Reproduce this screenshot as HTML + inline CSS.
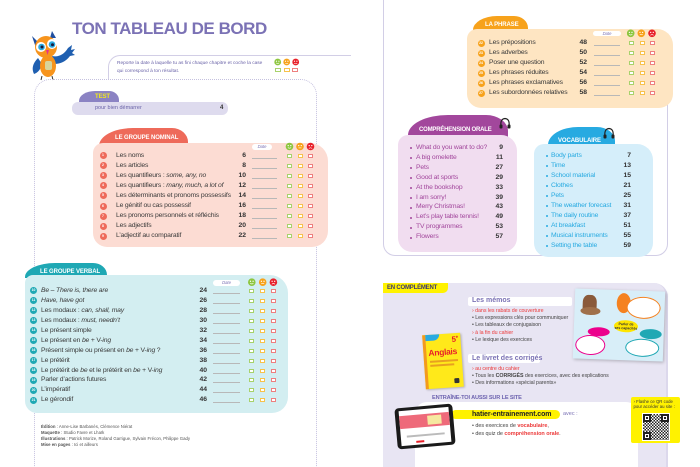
<!DOCTYPE html>
<html><head><meta charset="utf-8">
<style>
*{margin:0;padding:0;box-sizing:border-box}
html,body{width:700px;height:467px;overflow:hidden;background:#fff}
body{position:relative;font-family:"Liberation Sans",sans-serif;color:#3a3a3a}
.a{position:absolute}
.r{position:absolute;left:0;width:700px;height:10px;line-height:10px;font-size:6.8px;letter-spacing:-0.18px;color:#3a3a3a;white-space:nowrap}
.r .ci{position:absolute;top:1.5px;width:7px;height:7px;border-radius:50%;color:#fff;font-size:3.4px;line-height:7px;text-align:center;font-weight:bold;letter-spacing:0}
.r .t{position:absolute}
.r .p{position:absolute;text-align:right;width:20px;font-weight:bold;letter-spacing:0;color:#333}
.r .d{position:absolute;top:7px;height:0;border-top:0.7px solid #b8b8b8}
.r .b{position:absolute;top:3px;width:5px;height:4px;border:0.8px solid;background:#fff}
.b1{border-color:#a8d26c!important}.b2{border-color:#f7c24c!important}.b3{border-color:#ee7f7f!important}
.N .ci{left:99.5px;background:#ee6a5a}.N .t{left:116px}.N .p{left:226px}.N .d{left:252px;width:25px}
.N .b1{left:286.5px}.N .b2{left:297.5px}.N .b3{left:308px}
.V .ci{left:30px;background:#1fa8b4}.V .t{left:41px}.V .p{left:187px}.V .d{left:213px;width:27px}
.V .b1{left:249px}.V .b2{left:260px}.V .b3{left:271px}
.P .ci{left:477.5px;background:#f7a21b}.P .t{left:489px}.P .p{left:567px}.P .d{left:594px;width:26px}
.P .b1{left:628.5px}.P .b2{left:639.5px}.P .b3{left:649.5px}
.C .t{left:416px;color:#a2479c}.C .p{left:483px}.C .bu{position:absolute;left:410px;top:4.2px;width:2px;height:2px;border-radius:50%;background:#a2479c}
.W .t{left:551px;color:#27aae1}.W .p{left:611px}.W .bu{position:absolute;left:546px;top:4.2px;width:2px;height:2px;border-radius:50%;background:#27aae1}
.tab{position:absolute;color:#fff;font-weight:bold;font-size:6px;letter-spacing:-0.1px;white-space:nowrap}
.pill{position:absolute;background:#fff;border-radius:3px;font-size:4.2px;font-style:italic;color:#7b72b5;text-align:center;line-height:5px}
.sm{position:absolute;font-size:5.3px;line-height:7px;white-space:nowrap;color:#444;letter-spacing:-0.05px}
.red{color:#ec3a3a}
</style></head><body>

<!-- LEFT PAGE -->
<div class="a" style="left:72px;top:17px;font-size:17px;font-weight:bold;color:#7b72b5;letter-spacing:-0.45px;line-height:24px;white-space:nowrap">TON TABLEAU DE BORD</div>

<!-- owl -->
<svg class="a" style="left:28px;top:28px" width="50" height="54" viewBox="0 0 50 54">
  <path d="M4 8 L10 14 L8 20 Z" fill="#1f4fa0"/>
  <path d="M24 3 L22 10 L28 10 Z" fill="#1f4fa0"/>
  <path d="M24 28 Q34 30 40 20 L44 17 L43 22 L47 21 L44 25 L47 27 L42 28 Q36 36 26 36 Z" fill="#1f5fb0"/>
  <path d="M10 30 Q2 38 6 46 Q12 44 14 36 Z" fill="#1f5fb0"/>
  <ellipse cx="20" cy="38" rx="8" ry="11" fill="#f7941d"/>
  <rect x="17" y="33" width="7" height="9" rx="2" fill="#d8d49a"/>
  <circle cx="18" cy="19" r="11" fill="#f7941d"/>
  <circle cx="13" cy="19" r="5" fill="#fff"/><circle cx="24" cy="16" r="5" fill="#fff"/>
  <circle cx="13.5" cy="19" r="3.3" fill="#29aae1"/><circle cx="24" cy="16.5" r="3.3" fill="#29aae1"/>
  <circle cx="14" cy="19" r="1.5" fill="#1a1a3a"/><circle cx="24.5" cy="16.8" r="1.5" fill="#1a1a3a"/>
  <path d="M18 22 L21 22 L19.5 27 Z" fill="#e8318a"/>
  <path d="M14 48 L13 52 M24 48 L25 52" stroke="#333" stroke-width="1"/>
</svg>

<!-- instruction panel -->
<div class="a" style="left:108px;top:55px;width:243px;height:25px;border-top:1px solid #d2cee6;border-left:1px solid #d2cee6;border-top-left-radius:12px"></div>
<div class="a" style="left:117px;top:60px;font-size:4.8px;line-height:8px;color:#6a63a8;white-space:nowrap">Reporte la date à laquelle tu as fini chaque chapitre et coche la case<br>qui correspond à ton résultat.</div>
<svg class="a" style="left:274px;top:58px" width="26" height="8" viewBox="0 0 26 8">
 <g transform="translate(3.7,4)"><circle r="3.4" fill="#8dc63f"/><circle cx="-1.2" cy="-0.8" r="0.6" fill="#fff"/><circle cx="1.2" cy="-0.8" r="0.6" fill="#fff"/><path d="M-1.5 0.9 Q0 2.2 1.5 0.9" stroke="#fff" stroke-width="0.6" fill="none"/></g>
 <g transform="translate(12.7,4)"><circle r="3.4" fill="#f7a21b"/><circle cx="-1.2" cy="-0.8" r="0.6" fill="#fff"/><circle cx="1.2" cy="-0.8" r="0.6" fill="#fff"/><path d="M-1.4 1.3 L1.4 1.3" stroke="#fff" stroke-width="0.6"/></g>
 <g transform="translate(21.7,4)"><circle r="3.4" fill="#e8202a"/><circle cx="-1.2" cy="-0.8" r="0.6" fill="#fff"/><circle cx="1.2" cy="-0.8" r="0.6" fill="#fff"/><path d="M-1.5 1.9 Q0 0.6 1.5 1.9" stroke="#fff" stroke-width="0.6" fill="none"/></g>
</svg>
<div class="a" style="left:275px;top:68px;width:6px;height:4px;border:0.8px solid #a8d26c"></div>
<div class="a" style="left:283.5px;top:68px;width:6px;height:4px;border:0.8px solid #f7c24c"></div>
<div class="a" style="left:292px;top:68px;width:6px;height:4px;border:0.8px solid #ee7f7f"></div>

<!-- main left frame -->
<div class="a" style="left:34px;top:79px;width:283px;height:400px;border:1px dotted #c5c1df;border-bottom:none;border-radius:16px 16px 0 0"></div>

<!-- test -->
<div class="a" style="left:79px;top:91px;width:40px;height:12px;background:#8b83c3;border-radius:16px 10px 0 0/10px 9px 0 0"></div>
<div class="tab" style="left:95px;top:93px;color:#f3ea1a;font-size:6px;line-height:8px">TEST</div>
<div class="a" style="left:72px;top:102px;width:156px;height:13px;background:#dedbee;border-radius:6px"></div>
<div class="a" style="left:95px;top:104px;font-size:5.5px;line-height:9px;color:#6a63a8">pour bien démarrer</div>
<div class="a" style="left:220px;top:104px;font-size:6px;line-height:9px;font-weight:bold;color:#333">4</div>

<!-- groupe nominal -->
<div class="a" style="left:99px;top:128px;width:89px;height:20px;background:#ee6a5a;border-radius:34px 16px 0 0/18px 14px 0 0"></div>
<div class="tab" style="left:115px;top:134px;line-height:8px">LE GROUPE NOMINAL</div>
<div class="a" style="left:93px;top:143px;width:235px;height:104px;background:#fcdcd3;border-radius:10px 18px 16px 14px"></div>
<div class="pill" style="left:252px;top:144px;width:20px;height:5.5px">Date</div>
<svg class="a" style="left:285px;top:142px" width="30" height="9" viewBox="0 0 30 9">
 <g transform="translate(4.5,4.5)"><circle r="3.8" fill="#8dc63f"/><circle cx="-1.3" cy="-0.9" r="0.65" fill="#fff"/><circle cx="1.3" cy="-0.9" r="0.65" fill="#fff"/><path d="M-1.6 1 Q0 2.4 1.6 1" stroke="#fff" stroke-width="0.65" fill="none"/></g>
 <g transform="translate(15,4.5)"><circle r="3.8" fill="#f7a21b"/><circle cx="-1.3" cy="-0.9" r="0.65" fill="#fff"/><circle cx="1.3" cy="-0.9" r="0.65" fill="#fff"/><path d="M-1.5 1.4 L1.5 1.4" stroke="#fff" stroke-width="0.65"/></g>
 <g transform="translate(25.5,4.5)"><circle r="3.8" fill="#e8202a"/><circle cx="-1.3" cy="-0.9" r="0.65" fill="#fff"/><circle cx="1.3" cy="-0.9" r="0.65" fill="#fff"/><path d="M-1.6 2 Q0 0.6 1.6 2" stroke="#fff" stroke-width="0.65" fill="none"/></g>
</svg>
<div class="r N" style="top:150.5px"><span class="ci">1</span><span class="t">Les noms</span><span class="p">6</span><span class="d"></span><span class="b b1"></span><span class="b b2"></span><span class="b b3"></span></div>
<div class="r N" style="top:160.6px"><span class="ci">2</span><span class="t">Les articles</span><span class="p">8</span><span class="d"></span><span class="b b1"></span><span class="b b2"></span><span class="b b3"></span></div>
<div class="r N" style="top:170.7px"><span class="ci">3</span><span class="t">Les quantifieurs : <i>some, any, no</i></span><span class="p">10</span><span class="d"></span><span class="b b1"></span><span class="b b2"></span><span class="b b3"></span></div>
<div class="r N" style="top:180.8px"><span class="ci">4</span><span class="t">Les quantifieurs : <i>many, much, a lot of</i></span><span class="p">12</span><span class="d"></span><span class="b b1"></span><span class="b b2"></span><span class="b b3"></span></div>
<div class="r N" style="top:190.9px"><span class="ci">5</span><span class="t">Les déterminants et pronoms possessifs</span><span class="p">14</span><span class="d"></span><span class="b b1"></span><span class="b b2"></span><span class="b b3"></span></div>
<div class="r N" style="top:201px"><span class="ci">6</span><span class="t">Le génitif ou cas possessif</span><span class="p">16</span><span class="d"></span><span class="b b1"></span><span class="b b2"></span><span class="b b3"></span></div>
<div class="r N" style="top:211.1px"><span class="ci">7</span><span class="t">Les pronoms personnels et réfléchis</span><span class="p">18</span><span class="d"></span><span class="b b1"></span><span class="b b2"></span><span class="b b3"></span></div>
<div class="r N" style="top:221.2px"><span class="ci">8</span><span class="t">Les adjectifs</span><span class="p">20</span><span class="d"></span><span class="b b1"></span><span class="b b2"></span><span class="b b3"></span></div>
<div class="r N" style="top:231.3px"><span class="ci">9</span><span class="t">L’adjectif au comparatif</span><span class="p">22</span><span class="d"></span><span class="b b1"></span><span class="b b2"></span><span class="b b3"></span></div>

<!-- groupe verbal -->
<div class="a" style="left:25px;top:263px;width:82px;height:15px;background:#1fa8b4;border-radius:30px 14px 0 0/14px 12px 0 0"></div>
<div class="tab" style="left:40px;top:268px;line-height:8px">LE GROUPE VERBAL</div>
<div class="a" style="left:25px;top:275px;width:263px;height:138px;background:#d3eef1;border-radius:8px 18px 16px 12px"></div>
<div class="pill" style="left:213px;top:280px;width:27px;height:5.5px">Date</div>
<svg class="a" style="left:248px;top:277.5px" width="30" height="9" viewBox="0 0 30 9">
 <g transform="translate(3.8,4.2)"><circle r="3.8" fill="#8dc63f"/><circle cx="-1.3" cy="-0.9" r="0.65" fill="#fff"/><circle cx="1.3" cy="-0.9" r="0.65" fill="#fff"/><path d="M-1.6 1 Q0 2.4 1.6 1" stroke="#fff" stroke-width="0.65" fill="none"/></g>
 <g transform="translate(14.7,4.2)"><circle r="3.8" fill="#f7a21b"/><circle cx="-1.3" cy="-0.9" r="0.65" fill="#fff"/><circle cx="1.3" cy="-0.9" r="0.65" fill="#fff"/><path d="M-1.5 1.4 L1.5 1.4" stroke="#fff" stroke-width="0.65"/></g>
 <g transform="translate(25.4,4.2)"><circle r="3.8" fill="#e8202a"/><circle cx="-1.3" cy="-0.9" r="0.65" fill="#fff"/><circle cx="1.3" cy="-0.9" r="0.65" fill="#fff"/><path d="M-1.6 2 Q0 0.6 1.6 2" stroke="#fff" stroke-width="0.65" fill="none"/></g>
</svg>
<div class="r V" style="top:285.7px"><span class="ci">10</span><span class="t"><i>Be – There is, there are</i></span><span class="p">24</span><span class="d"></span><span class="b b1"></span><span class="b b2"></span><span class="b b3"></span></div>
<div class="r V" style="top:295.7px"><span class="ci">11</span><span class="t"><i>Have, have got</i></span><span class="p">26</span><span class="d"></span><span class="b b1"></span><span class="b b2"></span><span class="b b3"></span></div>
<div class="r V" style="top:305.6px"><span class="ci">12</span><span class="t">Les modaux : <i>can, shall, may</i></span><span class="p">28</span><span class="d"></span><span class="b b1"></span><span class="b b2"></span><span class="b b3"></span></div>
<div class="r V" style="top:315.6px"><span class="ci">13</span><span class="t">Les modaux : <i>must, needn’t</i></span><span class="p">30</span><span class="d"></span><span class="b b1"></span><span class="b b2"></span><span class="b b3"></span></div>
<div class="r V" style="top:325.6px"><span class="ci">14</span><span class="t">Le présent simple</span><span class="p">32</span><span class="d"></span><span class="b b1"></span><span class="b b2"></span><span class="b b3"></span></div>
<div class="r V" style="top:335.6px"><span class="ci">15</span><span class="t">Le présent en <i>be</i> + V-<i>ing</i></span><span class="p">34</span><span class="d"></span><span class="b b1"></span><span class="b b2"></span><span class="b b3"></span></div>
<div class="r V" style="top:345.5px"><span class="ci">16</span><span class="t">Présent simple ou présent en <i>be</i> + V-<i>ing</i> ?</span><span class="p">36</span><span class="d"></span><span class="b b1"></span><span class="b b2"></span><span class="b b3"></span></div>
<div class="r V" style="top:355.5px"><span class="ci">17</span><span class="t">Le prétérit</span><span class="p">38</span><span class="d"></span><span class="b b1"></span><span class="b b2"></span><span class="b b3"></span></div>
<div class="r V" style="top:365.5px"><span class="ci">18</span><span class="t">Le prétérit de <i>be</i> et le prétérit en <i>be</i> + V-<i>ing</i></span><span class="p">40</span><span class="d"></span><span class="b b1"></span><span class="b b2"></span><span class="b b3"></span></div>
<div class="r V" style="top:375.4px"><span class="ci">19</span><span class="t">Parler d’actions futures</span><span class="p">42</span><span class="d"></span><span class="b b1"></span><span class="b b2"></span><span class="b b3"></span></div>
<div class="r V" style="top:385.4px"><span class="ci">20</span><span class="t">L’impératif</span><span class="p">44</span><span class="d"></span><span class="b b1"></span><span class="b b2"></span><span class="b b3"></span></div>
<div class="r V" style="top:395.4px"><span class="ci">21</span><span class="t">Le gérondif</span><span class="p">46</span><span class="d"></span><span class="b b1"></span><span class="b b2"></span><span class="b b3"></span></div>

<!-- credits -->
<div class="a" style="left:41px;top:424px;font-size:4.3px;line-height:6px;color:#555;white-space:nowrap">
<b>Édition</b> : Anne-Lise Barbanès, Clémence Niérat<br>
<b>Maquette</b> : Studio Favre et Lhaïk<br>
<b>Illustrations</b> : Patrick Morize, Roland Garrigue, Sylvain Frécon, Philippe Gady<br>
<b>Mise en pages</b> : Ici et ailleurs</div>

<!-- RIGHT PAGE -->
<div class="a" style="left:383px;top:-20px;width:285px;height:276px;border:1px solid #d2cee6;border-top:none;border-radius:0 0 12px 12px"></div>
<div class="a" style="left:664px;top:0;width:6px;height:40px;background:#fff"></div>

<!-- la phrase -->
<div class="a" style="left:473px;top:16px;width:55px;height:16px;background:#f7a21b;border-radius:24px 14px 0 0/14px 12px 0 0"></div>
<div class="tab" style="left:485px;top:20.5px;line-height:8px">LA PHRASE</div>
<div class="a" style="left:467px;top:29px;width:206px;height:79px;background:#fee5c2;border-radius:10px 16px 14px 14px"></div>
<div class="pill" style="left:593px;top:31px;width:28px;height:5px">Date</div>
<svg class="a" style="left:627px;top:29px" width="30" height="9" viewBox="0 0 30 9">
 <g transform="translate(3.7,4.3)"><circle r="3.8" fill="#8dc63f"/><circle cx="-1.3" cy="-0.9" r="0.65" fill="#fff"/><circle cx="1.3" cy="-0.9" r="0.65" fill="#fff"/><path d="M-1.6 1 Q0 2.4 1.6 1" stroke="#fff" stroke-width="0.65" fill="none"/></g>
 <g transform="translate(14.3,4.3)"><circle r="3.8" fill="#f7a21b"/><circle cx="-1.3" cy="-0.9" r="0.65" fill="#fff"/><circle cx="1.3" cy="-0.9" r="0.65" fill="#fff"/><path d="M-1.5 1.4 L1.5 1.4" stroke="#fff" stroke-width="0.65"/></g>
 <g transform="translate(25,4.3)"><circle r="3.8" fill="#e8202a"/><circle cx="-1.3" cy="-0.9" r="0.65" fill="#fff"/><circle cx="1.3" cy="-0.9" r="0.65" fill="#fff"/><path d="M-1.6 2 Q0 0.6 1.6 2" stroke="#fff" stroke-width="0.65" fill="none"/></g>
</svg>
<div class="r P" style="top:38px"><span class="ci">22</span><span class="t">Les prépositions</span><span class="p">48</span><span class="d"></span><span class="b b1"></span><span class="b b2"></span><span class="b b3"></span></div>
<div class="r P" style="top:48px"><span class="ci">23</span><span class="t">Les adverbes</span><span class="p">50</span><span class="d"></span><span class="b b1"></span><span class="b b2"></span><span class="b b3"></span></div>
<div class="r P" style="top:58px"><span class="ci">24</span><span class="t">Poser une question</span><span class="p">52</span><span class="d"></span><span class="b b1"></span><span class="b b2"></span><span class="b b3"></span></div>
<div class="r P" style="top:68px"><span class="ci">25</span><span class="t">Les phrases réduites</span><span class="p">54</span><span class="d"></span><span class="b b1"></span><span class="b b2"></span><span class="b b3"></span></div>
<div class="r P" style="top:78px"><span class="ci">26</span><span class="t">Les phrases exclamatives</span><span class="p">56</span><span class="d"></span><span class="b b1"></span><span class="b b2"></span><span class="b b3"></span></div>
<div class="r P" style="top:88px"><span class="ci">27</span><span class="t">Les subordonnées relatives</span><span class="p">58</span><span class="d"></span><span class="b b1"></span><span class="b b2"></span><span class="b b3"></span></div>

<!-- comprehension orale -->
<div class="a" style="left:408px;top:115px;width:100px;height:22px;background:#a2479c;border-radius:40px 22px 0 0/20px 16px 0 0"></div>
<div class="tab" style="left:419px;top:126px;line-height:8px;letter-spacing:-0.2px">COMPRÉHENSION ORALE</div>
<svg class="a" style="left:498px;top:116px" width="14" height="14" viewBox="0 0 14 14"><path d="M3 10 Q2 3 7 2.5 Q12 3 11 10" stroke="#222" stroke-width="1.2" fill="none"/><rect x="1.5" y="8.5" width="3" height="4" rx="1" fill="#222"/><rect x="9.5" y="8.5" width="3" height="4" rx="1" fill="#222"/></svg>
<div class="a" style="left:398px;top:135px;width:119px;height:117px;background:#f1ddf0;border-radius:10px 16px 14px 14px"></div>
<div class="r C" style="top:142.6px"><span class="bu"></span><span class="t">What do you want to do?</span><span class="p">9</span></div>
<div class="r C" style="top:152.6px"><span class="bu"></span><span class="t">A big omelette</span><span class="p">11</span></div>
<div class="r C" style="top:162.5px"><span class="bu"></span><span class="t">Pets</span><span class="p">27</span></div>
<div class="r C" style="top:172.5px"><span class="bu"></span><span class="t">Good at sports</span><span class="p">29</span></div>
<div class="r C" style="top:182.5px"><span class="bu"></span><span class="t">At the bookshop</span><span class="p">33</span></div>
<div class="r C" style="top:192.5px"><span class="bu"></span><span class="t">I am sorry!</span><span class="p">39</span></div>
<div class="r C" style="top:202.4px"><span class="bu"></span><span class="t">Merry Christmas!</span><span class="p">43</span></div>
<div class="r C" style="top:212.4px"><span class="bu"></span><span class="t">Let’s play table tennis!</span><span class="p">49</span></div>
<div class="r C" style="top:222.4px"><span class="bu"></span><span class="t">TV programmes</span><span class="p">53</span></div>
<div class="r C" style="top:232.4px"><span class="bu"></span><span class="t">Flowers</span><span class="p">57</span></div>

<!-- vocabulaire -->
<div class="a" style="left:548px;top:127px;width:67px;height:20px;background:#27aae1;border-radius:30px 18px 0 0/18px 14px 0 0"></div>
<div class="tab" style="left:558px;top:136.5px;line-height:8px">VOCABULAIRE</div>
<svg class="a" style="left:602px;top:126px" width="14" height="14" viewBox="0 0 14 14"><path d="M3 10 Q2 3 7 2.5 Q12 3 11 10" stroke="#222" stroke-width="1.2" fill="none"/><rect x="1.5" y="8.5" width="3" height="4" rx="1" fill="#222"/><rect x="9.5" y="8.5" width="3" height="4" rx="1" fill="#222"/></svg>
<div class="a" style="left:534px;top:144px;width:119px;height:113px;background:#d5eefa;border-radius:10px 16px 14px 14px"></div>
<div class="r W" style="top:150.7px"><span class="bu"></span><span class="t">Body parts</span><span class="p">7</span></div>
<div class="r W" style="top:160.7px"><span class="bu"></span><span class="t">Time</span><span class="p">13</span></div>
<div class="r W" style="top:170.7px"><span class="bu"></span><span class="t">School material</span><span class="p">15</span></div>
<div class="r W" style="top:180.7px"><span class="bu"></span><span class="t">Clothes</span><span class="p">21</span></div>
<div class="r W" style="top:190.7px"><span class="bu"></span><span class="t">Pets</span><span class="p">25</span></div>
<div class="r W" style="top:200.7px"><span class="bu"></span><span class="t">The weather forecast</span><span class="p">31</span></div>
<div class="r W" style="top:210.7px"><span class="bu"></span><span class="t">The daily routine</span><span class="p">37</span></div>
<div class="r W" style="top:220.7px"><span class="bu"></span><span class="t">At breakfast</span><span class="p">51</span></div>
<div class="r W" style="top:230.7px"><span class="bu"></span><span class="t">Musical instruments</span><span class="p">55</span></div>
<div class="r W" style="top:240.7px"><span class="bu"></span><span class="t">Setting the table</span><span class="p">59</span></div>

<!-- en complement -->
<div class="a" style="left:383px;top:283px;width:285px;height:190px;background:#e8e5f3;border-top-right-radius:14px;border-right:2px solid #dcd8ec"></div>
<div class="a" style="left:383px;top:283px;width:65px;height:10px;background:#fff200;border-bottom-right-radius:5px"></div>
<div class="a" style="left:387px;top:284px;font-size:6px;line-height:8px;font-weight:bold;color:#3b3671;letter-spacing:-0.2px;white-space:nowrap">EN COMPLÉMENT</div>

<div class="a" style="left:468px;top:297px;width:104px;height:8.5px;background:#fff;border-radius:2px"></div>
<div class="a" style="left:472px;top:297px;font-size:7px;line-height:8.5px;font-weight:bold;color:#7b72b5;white-space:nowrap">Les mémos</div>
<div class="sm red" style="left:472px;top:307.5px">› dans les rabats de couverture</div>
<div class="sm" style="left:472px;top:314.5px">• Les expressions clés pour communiquer</div>
<div class="sm" style="left:472px;top:322px">• Les tableaux de conjugaison</div>
<div class="sm red" style="left:472px;top:329.5px">› à la fin du cahier</div>
<div class="sm" style="left:472px;top:337px">• Le lexique des exercices</div>

<div class="a" style="left:468px;top:354px;width:72px;height:9px;background:#fff;border-radius:2px"></div>
<div class="a" style="left:472px;top:354px;font-size:7px;line-height:9px;font-weight:bold;color:#7b72b5;white-space:nowrap">Le livret des corrigés</div>
<div class="sm red" style="left:472px;top:365.5px">› au centre du cahier</div>
<div class="sm" style="left:472px;top:372.5px">• Tous les <b>CORRIGÉS</b> des exercices, avec des explications</div>
<div class="sm" style="left:472px;top:379.5px">• Des informations «spécial parents»</div>

<!-- book -->
<div class="a" style="left:424px;top:334px;width:38px;height:54px;background:#ffe91a;border-left:3px solid #f39a1e;transform:rotate(-4deg);box-shadow:1px 1px 2px rgba(0,0,0,0.25)">
  <div class="a" style="left:0;top:0;width:14px;height:6px;background:#29aae1;border-radius:0 0 6px 0"></div>
  <div class="a" style="left:26px;top:1px;font-size:8px;font-weight:bold;color:#e8202a">5<sup style="font-size:4px">e</sup></div>
  <div class="a" style="left:2px;top:13px;font-size:8.5px;font-weight:bold;color:#e8202a;letter-spacing:-0.3px">Anglais</div>
  <div class="a" style="left:3px;top:26px;width:28px;height:1.5px;background:#e8a020"></div>
  <div class="a" style="left:3px;top:30px;width:24px;height:1.5px;background:#e8a020"></div>
  <div class="a" style="left:26px;top:45px;width:5px;height:5px;background:#333;border-radius:1px"></div>
</div>

<!-- mind map -->
<div class="a" style="left:574px;top:290px;width:90px;height:70px;background:#d8eef8;transform:rotate(2deg);box-shadow:1px 1px 3px rgba(0,0,0,0.25);overflow:hidden">
  <div class="a" style="left:8px;top:6px;width:14px;height:18px;background:#8a5a3a;border-radius:40% 40% 30% 30%"></div>
  <div class="a" style="left:6px;top:18px;width:20px;height:8px;background:#a0704a;border-radius:50%"></div>
  <div class="a" style="left:42px;top:3px;width:14px;height:20px;background:#f58220;border-radius:50%"></div>
  <div class="a" style="left:52px;top:6px;width:34px;height:22px;border:1px solid #f58220;background:#fff;border-radius:50%"></div>
  <div class="a" style="left:40px;top:30px;width:24px;height:12px;background:#ffe600;border-radius:50%;font-size:3.5px;font-weight:bold;text-align:center;line-height:4px;padding-top:2px;color:#333">Parler de<br>ses capacités</div>
  <div class="a" style="left:14px;top:38px;width:22px;height:9px;background:#ec008c;border-radius:50%"></div>
  <div class="a" style="left:2px;top:46px;width:30px;height:20px;border:1px solid #ec008c;background:#fff;border-radius:50%"></div>
  <div class="a" style="left:66px;top:38px;width:22px;height:10px;background:#1fa8b4;border-radius:50%"></div>
  <div class="a" style="left:52px;top:48px;width:34px;height:18px;border:1px solid #1fa8b4;background:#fff;border-radius:50%"></div>
</div>

<div class="a" style="left:432px;top:394px;font-size:5.6px;line-height:8px;font-weight:bold;color:#6e64b0;letter-spacing:-0.15px;white-space:nowrap">ENTRAÎNE-TOI AUSSI SUR LE SITE</div>
<div class="a" style="left:415px;top:402px;width:223px;height:70px;background:#fff;border-radius:12px 12px 0 0"></div>

<div class="a" style="left:451px;top:410px;width:109px;height:9px;background:#fff200;border-radius:5px"></div>
<div class="a" style="left:472px;top:409.5px;font-size:7px;line-height:10px;font-weight:bold;color:#222;white-space:nowrap;letter-spacing:-0.1px">hatier-entrainement.com</div>
<div class="a" style="left:563px;top:411px;font-size:5.5px;line-height:7px;color:#7b72b5">avec :</div>
<div class="sm" style="left:472px;top:423px;font-size:5.5px">• des exercices de <b class="red">vocabulaire</b>,</div>
<div class="sm" style="left:472px;top:431px;font-size:5.5px">• des quiz de <b class="red">compréhension orale</b>.</div>

<!-- tablet -->
<div class="a" style="left:396px;top:406px;width:58px;height:41px;background:#1a1a1a;border-radius:4px;transform:rotate(-5deg)">
  <div class="a" style="left:4px;top:3px;width:50px;height:35px;background:#fff;overflow:hidden">
    <div class="a" style="left:0;top:5px;width:50px;height:13px;background:#ee6a7a"></div>
    <div class="a" style="left:28px;top:7px;width:14px;height:9px;background:#f6e8a0"></div>
    <div class="a" style="left:6px;top:25px;width:38px;height:2px;background:#bbb"></div>
    <div class="a" style="left:15px;top:31px;width:8px;height:2px;background:#e8202a"></div>
  </div>
</div>

<!-- QR -->
<div class="a" style="left:631px;top:397px;width:49px;height:46px;background:#fff200;border-radius:2px"></div>
<div class="a" style="left:633.5px;top:398.5px;font-size:4.3px;line-height:5.5px;color:#333;white-space:nowrap">› Flashe ce QR code<br>pour accéder au site :</div>
<div class="a" style="left:642px;top:413px;width:28px;height:28px;background:#fff;padding:1px">
  <div style="width:26px;height:26px;background:repeating-conic-gradient(#222 0 25%,#fff 0 50%) 0 0/3px 3px;position:relative">
    <div class="a" style="left:0;top:0;width:8px;height:8px;border:2px solid #222;background:#fff"><div style="margin:1px;width:2px;height:2px;background:#222"></div></div>
    <div class="a" style="right:0;top:0;width:8px;height:8px;border:2px solid #222;background:#fff"><div style="margin:1px;width:2px;height:2px;background:#222"></div></div>
    <div class="a" style="left:0;bottom:0;width:8px;height:8px;border:2px solid #222;background:#fff"><div style="margin:1px;width:2px;height:2px;background:#222"></div></div>
  </div>
</div>

</body></html>
